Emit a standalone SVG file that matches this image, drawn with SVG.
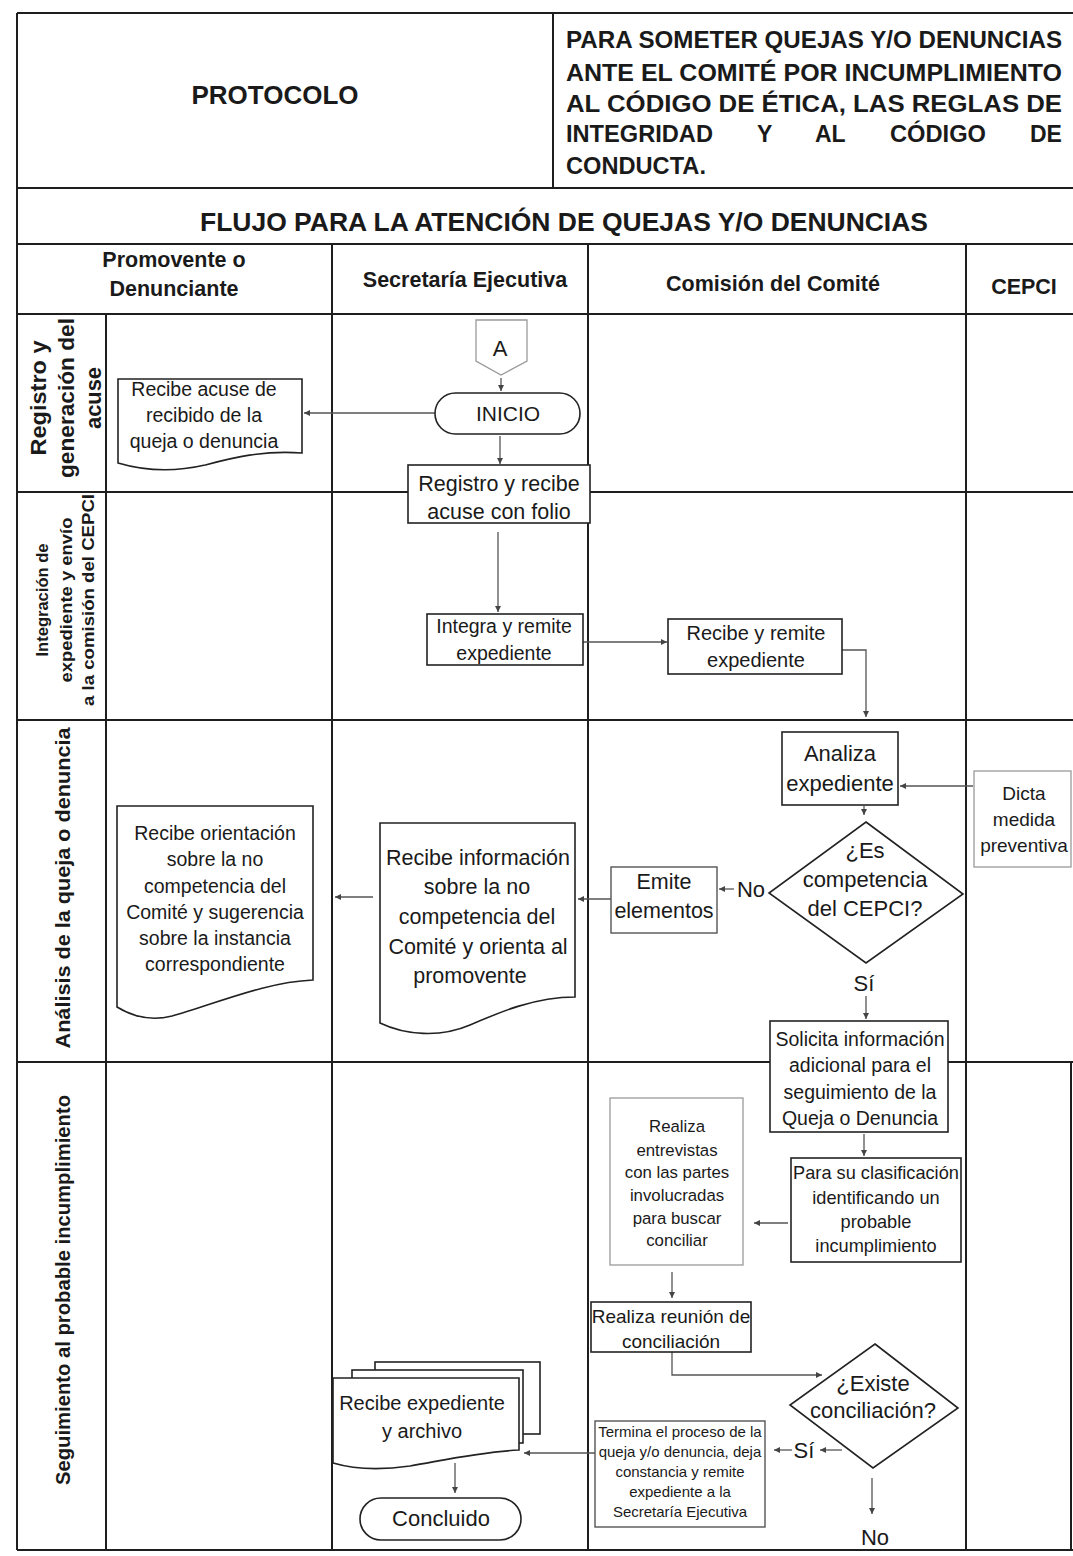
<svg xmlns="http://www.w3.org/2000/svg" width="1073" height="1556" viewBox="0 0 1073 1556">
<defs>
<marker id="ah" viewBox="0 0 6 6" refX="6" refY="3" markerWidth="6" markerHeight="6" markerUnits="userSpaceOnUse" orient="auto">
<path d="M0,0 L6,3 L0,6 Z" fill="#444"/>
</marker>
<style>
.grid{stroke:#1e1e1e;stroke-width:2;fill:none}
.box{fill:#fff;stroke:#222;stroke-width:1.6}
.mbox{fill:#fff;stroke:#555;stroke-width:1.4}
.lbox{fill:#fff;stroke:#9a9a9a;stroke-width:1.3}
.conn{stroke:#555;stroke-width:1.3;fill:none;marker-end:url(#ah)}
.t{font-family:"Liberation Sans",Arial,sans-serif;fill:#1a1a1a;text-anchor:middle}
.b{font-weight:bold}
.s{font-family:"Liberation Sans",Arial,sans-serif;fill:#1a1a1a}
</style>
</defs>
<rect width="1073" height="1556" fill="#fff"/>

<g id="grid">
<line class="grid" x1="17" y1="13" x2="1073" y2="13"/>
<line class="grid" x1="17" y1="13" x2="17" y2="1550"/>
<line class="grid" x1="553" y1="13" x2="553" y2="188"/>
<line class="grid" x1="17" y1="188" x2="1073" y2="188"/>
<line class="grid" x1="17" y1="244" x2="1073" y2="244"/>
<line class="grid" x1="17" y1="314" x2="1073" y2="314"/>
<line class="grid" x1="332" y1="244" x2="332" y2="1550"/>
<line class="grid" x1="588" y1="244" x2="588" y2="1550"/>
<line class="grid" x1="966" y1="244" x2="966" y2="1550"/>
<line class="grid" x1="106" y1="314" x2="106" y2="1550"/>
<line class="grid" x1="17" y1="492" x2="1073" y2="492"/>
<line class="grid" x1="17" y1="720" x2="1073" y2="720"/>
<line class="grid" x1="17" y1="1062" x2="1073" y2="1062"/>
<line class="grid" x1="1071" y1="1062" x2="1071" y2="1550"/>
<line class="grid" x1="17" y1="1550" x2="1073" y2="1550"/>
</g>

<g id="header">
<text class="t b" x="275" y="104" font-size="25" textLength="167" lengthAdjust="spacingAndGlyphs">PROTOCOLO</text>
<text class="s b" font-size="23">
<tspan x="566" y="48" textLength="496" lengthAdjust="spacingAndGlyphs">PARA SOMETER QUEJAS Y/O DENUNCIAS</tspan>
<tspan x="566" y="81" textLength="496" lengthAdjust="spacingAndGlyphs">ANTE EL COMITÉ POR INCUMPLIMIENTO</tspan>
<tspan x="566" y="112" textLength="496" lengthAdjust="spacingAndGlyphs">AL CÓDIGO DE ÉTICA, LAS REGLAS DE</tspan>
<tspan x="566" y="142" textLength="147" lengthAdjust="spacingAndGlyphs">INTEGRIDAD</tspan>
<tspan x="757" y="142">Y</tspan>
<tspan x="815" y="142">AL</tspan>
<tspan x="890" y="142" textLength="96" lengthAdjust="spacingAndGlyphs">CÓDIGO</tspan>
<tspan x="1030" y="142">DE</tspan>
<tspan x="566" y="174" textLength="140" lengthAdjust="spacingAndGlyphs">CONDUCTA.</tspan>
</text>
<text class="t b" x="564" y="231" font-size="26" textLength="728" lengthAdjust="spacingAndGlyphs">FLUJO PARA LA ATENCIÓN DE QUEJAS Y/O DENUNCIAS</text>
<text class="t b" font-size="21.5"><tspan x="174" y="267">Promovente o</tspan><tspan x="174" y="296">Denunciante</tspan></text>
<text class="t b" x="465" y="287" font-size="21.5">Secretaría Ejecutiva</text>
<text class="t b" x="773" y="291" font-size="21.5">Comisión del Comité</text>
<text class="t b" x="1024" y="294" font-size="21.5">CEPCI</text>
</g>

<g id="lanes">
<text class="t b" font-size="22" transform="translate(66,398) rotate(-90)"><tspan x="0" y="-20" textLength="115" lengthAdjust="spacingAndGlyphs">Registro y</tspan><tspan x="0" y="8" textLength="160" lengthAdjust="spacingAndGlyphs">generación del</tspan><tspan x="0" y="35" textLength="62" lengthAdjust="spacingAndGlyphs">acuse</tspan></text>
<text class="t b" font-size="16.5" transform="translate(66,600) rotate(-90)"><tspan x="0" y="-18" textLength="113" lengthAdjust="spacingAndGlyphs">Integración de</tspan><tspan x="0" y="6" textLength="165" lengthAdjust="spacingAndGlyphs">expediente y envío</tspan><tspan x="0" y="28" textLength="212" lengthAdjust="spacingAndGlyphs">a la comisión del CEPCI</tspan></text>
<text class="t b" font-size="21" transform="translate(62,888) rotate(-90)" dy="7.5" textLength="321" lengthAdjust="spacingAndGlyphs">Análisis de la queja o denuncia</text>
<text class="t b" font-size="21" transform="translate(62,1290) rotate(-90)" dy="7.5" textLength="390" lengthAdjust="spacingAndGlyphs">Seguimiento al probable incumplimiento</text>
</g>

<g id="connectors">
<path class="conn" d="M501,378 V391"/>
<path class="conn" d="M435,413 H304"/>
<path class="conn" d="M500,436 V464"/>
<path class="conn" d="M498,532 V612"/>
<path class="conn" d="M583,642 H667"/>
<path class="conn" d="M842,650 H866 V717"/>
<path class="conn" d="M973,786 H900"/>
<path class="conn" d="M864,806 V815"/>
<path class="conn" d="M734,889 H719"/>
<path class="conn" d="M611,899 H578"/>
<path class="conn" d="M373,897 H335"/>
<path class="conn" d="M866,996 V1019"/>
<path class="conn" d="M864,1134 V1156"/>
<path class="conn" d="M788,1223 H754"/>
<path class="conn" d="M672,1272 V1298"/>
<path class="conn" d="M672,1352 V1375 H822"/>
<path class="conn" d="M842,1450 H820"/>
<path class="conn" d="M792,1450 H774"/>
<path class="conn" d="M595,1453 H524"/>
<path class="conn" d="M455,1463 V1493"/>
<path class="conn" d="M872,1478 V1514"/>
</g>

<g id="n-a">
<path class="lbox" d="M476,320 H527 V361 L501,375 L476,361 Z"/>
<text class="t" x="500" y="356" font-size="22">A</text>
</g>

<g id="n-inicio">
<rect class="box" x="435" y="393" width="145" height="41" rx="20.5"/>
<text class="t" x="508" y="421" font-size="21">INICIO</text>
</g>

<g id="n-acuse">
<path class="box" d="M118,379 H302 V453 C262,450 232,458 205,465 C175,472 145,471 118,463 Z"/>
<text class="t" font-size="19.5"><tspan x="204" y="396">Recibe acuse de</tspan><tspan x="204" y="422">recibido de la</tspan><tspan x="204" y="448">queja o denuncia</tspan></text>
</g>

<g id="n-registro">
<rect class="box" x="408" y="465" width="182" height="58"/>
<text class="t" font-size="21.5"><tspan x="499" y="491">Registro y recibe</tspan><tspan x="499" y="519">acuse con folio</tspan></text>
</g>

<g id="n-integra">
<rect class="box" x="427" y="614" width="156" height="51"/>
<text class="t" font-size="19.5"><tspan x="504" y="633">Integra y remite</tspan><tspan x="504" y="660">expediente</tspan></text>
</g>

<g id="n-recibe-remite">
<rect class="box" x="668" y="619" width="174" height="55"/>
<text class="t" font-size="20"><tspan x="756" y="640">Recibe y remite</tspan><tspan x="756" y="667">expediente</tspan></text>
</g>

<g id="n-analiza">
<rect class="box" x="782" y="732" width="116" height="73"/>
<text class="t" font-size="22"><tspan x="840" y="761">Analiza</tspan><tspan x="840" y="791">expediente</tspan></text>
</g>

<g id="n-dicta">
<rect class="lbox" x="974" y="771" width="97" height="96"/>
<text class="t" font-size="19"><tspan x="1024" y="800">Dicta</tspan><tspan x="1024" y="826">medida</tspan><tspan x="1024" y="852">preventiva</tspan></text>
</g>

<g id="n-competencia">
<polygon class="box" points="866,822 963,894 866,963 769,893"/>
<text class="t" font-size="22"><tspan x="865" y="858">¿Es</tspan><tspan x="865" y="887">competencia</tspan><tspan x="865" y="916">del CEPCI?</tspan></text>
<text class="t" x="751" y="897" font-size="22">No</text>
<text class="t" x="864" y="991" font-size="22">Sí</text>
</g>

<g id="n-emite">
<rect class="mbox" x="611" y="867" width="106" height="66"/>
<text class="t" font-size="21.5"><tspan x="664" y="889">Emite</tspan><tspan x="664" y="918">elementos</tspan></text>
</g>

<g id="n-recibe-info">
<path class="box" d="M380,823 H575 V997 C535,997 500,1012 470,1025 C440,1038 405,1035 380,1023 Z"/>
<text class="t" font-size="21.5"><tspan x="478" y="865">Recibe información</tspan><tspan x="477" y="894">sobre la no</tspan><tspan x="477" y="924">competencia del</tspan><tspan x="478" y="954">Comité y orienta al</tspan><tspan x="470" y="983">promovente</tspan></text>
</g>

<g id="n-recibe-orientacion">
<path class="box" d="M117,806 H313 V980 C265,982 215,1004 172,1016 C148,1022 130,1015 117,1007 Z"/>
<text class="t" font-size="19.5"><tspan x="215" y="840">Recibe orientación</tspan><tspan x="215" y="866">sobre la no</tspan><tspan x="215" y="893">competencia del</tspan><tspan x="215" y="919">Comité y sugerencia</tspan><tspan x="215" y="945">sobre la instancia</tspan><tspan x="215" y="971">correspondiente</tspan></text>
</g>

<g id="n-solicita">
<rect class="box" x="770" y="1021" width="178" height="111"/>
<text class="t" font-size="19.5"><tspan x="860" y="1046">Solicita información</tspan><tspan x="860" y="1072">adicional para el</tspan><tspan x="860" y="1099">seguimiento de la</tspan><tspan x="860" y="1125">Queja o Denuncia</tspan></text>
</g>

<g id="n-clasificacion">
<rect class="box" x="791" y="1158" width="170" height="104"/>
<text class="t" font-size="18.2"><tspan x="876" y="1179">Para su clasificación</tspan><tspan x="876" y="1204">identificando un</tspan><tspan x="876" y="1228">probable</tspan><tspan x="876" y="1252">incumplimiento</tspan></text>
</g>

<g id="n-entrevistas">
<rect class="lbox" x="610" y="1098" width="133" height="167"/>
<text class="t" font-size="16.8"><tspan x="677" y="1132">Realiza</tspan><tspan x="677" y="1156">entrevistas</tspan><tspan x="677" y="1178">con las partes</tspan><tspan x="677" y="1201">involucradas</tspan><tspan x="677" y="1224">para buscar</tspan><tspan x="677" y="1246">conciliar</tspan></text>
</g>

<g id="n-reunion">
<rect class="box" x="591" y="1302" width="160" height="50"/>
<text class="t" font-size="19"><tspan x="671" y="1323">Realiza reunión de</tspan><tspan x="671" y="1348">conciliación</tspan></text>
</g>

<g id="n-existe">
<polygon class="box" points="875,1344 958,1408 873,1468 790,1405"/>
<text class="t" font-size="22"><tspan x="873" y="1391">¿Existe</tspan><tspan x="873" y="1418">conciliación?</tspan></text>
<text class="t" x="804" y="1458" font-size="22">Sí</text>
<text class="t" x="875" y="1545" font-size="22">No</text>
</g>

<g id="n-termina">
<rect class="mbox" x="595" y="1421" width="170" height="106"/>
<text class="t" font-size="15"><tspan x="680" y="1437">Termina el proceso de la</tspan><tspan x="680" y="1457">queja y/o denuncia, deja</tspan><tspan x="680" y="1477">constancia y remite</tspan><tspan x="680" y="1497">expediente a la</tspan><tspan x="680" y="1517">Secretaría Ejecutiva</tspan></text>
</g>

<g id="n-archivo">
<rect class="box" x="375" y="1362" width="165" height="72"/>
<rect class="box" x="352" y="1370" width="171" height="73"/>
<path class="box" d="M333,1378 H519 V1450 C480,1452 445,1460 410,1466 C375,1471 350,1468 333,1463 Z"/>
<text class="t" font-size="20"><tspan x="422" y="1410">Recibe expediente</tspan><tspan x="422" y="1438">y archivo</tspan></text>
</g>

<g id="n-concluido">
<rect class="box" x="360" y="1498" width="161" height="42" rx="21"/>
<text class="t" x="441" y="1526" font-size="22">Concluido</text>
</g>
</svg>
